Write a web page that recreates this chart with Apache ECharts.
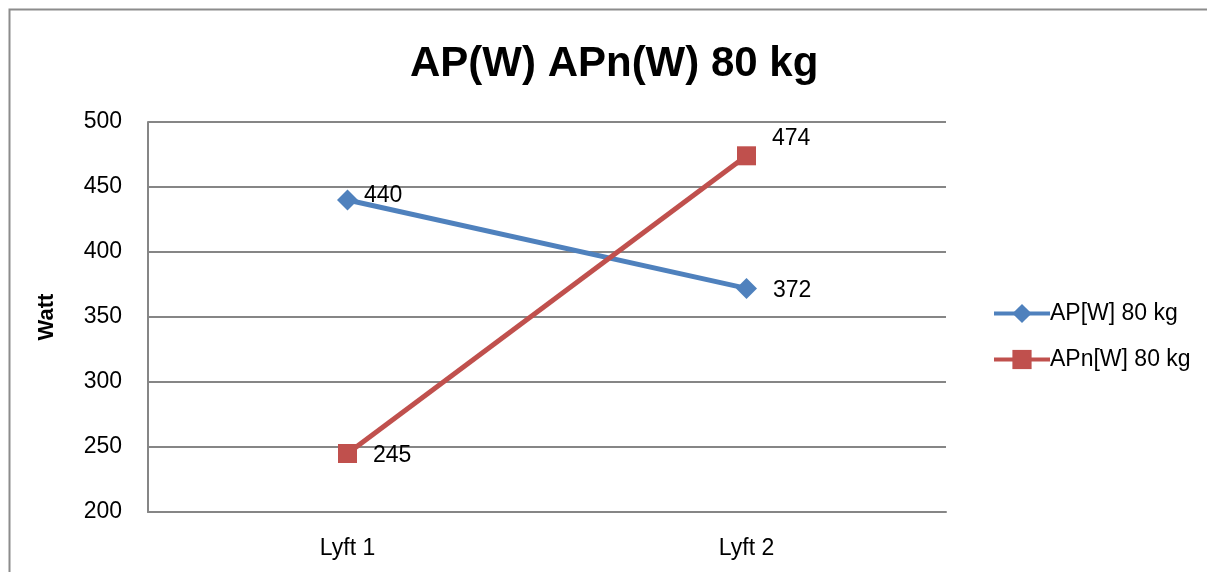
<!DOCTYPE html>
<html>
<head>
<meta charset="utf-8">
<script src="https://cdn.jsdelivr.net/npm/echarts@6/dist/echarts.min.js"></script>
<style>
  html, body { margin: 0; padding: 0; background: #fff; }
  #chart { width: 1207px; height: 572px; }
</style>
</head>
<body>
<div id="chart"></div>
<script>
// Lift categories and measured power values (watts)
const categories = ['Lyft 1', 'Lyft 2'];
const apValues = [440, 372];
const apnValues = [245, 474];
const seriesNames = ['AP[W] 80 kg', 'APn[W] 80 kg'];
const titleText = 'AP(W) APn(W) 80 kg';
const yAxisName = 'Watt';

// Per-point label nudges (pixels) so numbers sit clear of the lines
const apLabelOffsets = [[1, -4], [11, 2]];
const apnLabelOffsets = [[11, 2], [11, -17]];

const FONT = '"Liberation Sans", Arial, sans-serif';
const BLUE = '#4F81BD';
const RED = '#C0504D';
const GRID = '#868686';

function pointsWithLabels(values, offsets) {
  return values.map((v, i) => ({ value: v, label: { offset: offsets[i] } }));
}

const chart = echarts.init(document.getElementById('chart'), null, { renderer: 'canvas' });

chart.setOption({
  backgroundColor: '#ffffff',
  animation: false,
  textStyle: { fontFamily: FONT },
  graphic: [{
    type: 'rect',
    left: 7, top: 7,
    shape: { width: 1230, height: 620 },
    style: { fill: 'none', stroke: '#8c8c8c', lineWidth: 2 },
    silent: true
  }],
  title: {
    text: titleText,
    left: 405,
    top: 38,
    textStyle: { fontFamily: FONT, fontSize: 42, fontWeight: 'bold', color: '#000' }
  },
  legend: {
    orient: 'vertical',
    left: 987,
    top: 297,
    itemWidth: 56,
    itemHeight: 24,
    itemGap: 23,
    textStyle: { fontFamily: FONT, fontSize: 23, color: '#000', padding: [0, 0, 0, -5] },
    data: [
      { name: seriesNames[0], lineStyle: { width: 4, color: BLUE }, itemStyle: { color: BLUE } },
      { name: seriesNames[1], lineStyle: { width: 4, color: RED }, itemStyle: { color: RED } }
    ]
  },
  grid: { left: 148, right: 261, top: 122, bottom: 60 },
  xAxis: {
    type: 'category',
    data: categories,
    boundaryGap: true,
    axisLine: { lineStyle: { color: GRID, width: 2 } },
    axisTick: { show: false },
    axisLabel: { color: '#000', fontSize: 23, margin: 25, fontFamily: FONT }
  },
  yAxis: {
    type: 'value',
    min: 200,
    max: 500,
    interval: 50,
    name: yAxisName,
    nameLocation: 'middle',
    nameGap: 90,
    nameTextStyle: { fontFamily: FONT, fontSize: 22, fontWeight: 'bold', color: '#000' },
    axisLine: { show: true, lineStyle: { color: GRID, width: 2 } },
    axisTick: { show: false },
    axisLabel: { color: '#000', fontSize: 23, margin: 26, fontFamily: FONT },
    splitLine: { lineStyle: { color: GRID, width: 2 } }
  },
  series: [
    {
      name: seriesNames[0],
      type: 'line',
      data: pointsWithLabels(apValues, apLabelOffsets),
      symbol: 'diamond',
      symbolSize: 21,
      lineStyle: { color: BLUE, width: 5 },
      itemStyle: { color: BLUE },
      label: { show: true, position: 'right', distance: 5, color: '#000', fontSize: 23, fontFamily: FONT }
    },
    {
      name: seriesNames[1],
      type: 'line',
      data: pointsWithLabels(apnValues, apnLabelOffsets),
      symbol: 'rect',
      symbolSize: 19,
      lineStyle: { color: RED, width: 5 },
      itemStyle: { color: RED },
      label: { show: true, position: 'right', distance: 5, color: '#000', fontSize: 23, fontFamily: FONT }
    }
  ]
});
</script>
</body>
</html>
